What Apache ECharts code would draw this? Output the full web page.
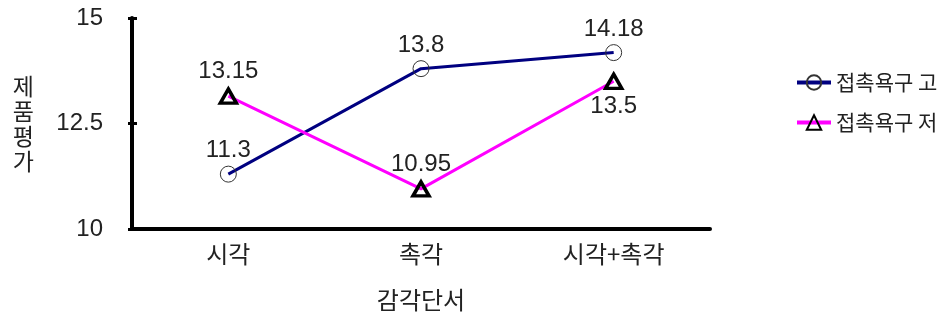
<!DOCTYPE html>
<html><head><meta charset="utf-8">
<script src="https://cdn.jsdelivr.net/npm/echarts@6/dist/echarts.min.js"></script>
<style>html,body{margin:0;padding:0;background:#fff}#c{width:945px;height:323px}</style>
</head><body><div id="c"></div>
<script>
const categories = ['시각', '촉각', '시각+촉각'];
const seriesNames = ['접촉욕구 고', '접촉욕구 저'];
const highValues = [11.3, 13.8, 14.18];
const lowValues = [13.15, 10.95, 13.5];
const yTicks = [10, 12.5, 15];
const xTitle = '감각단서';
const yTitle = '제품평가';

const FF = "'Liberation Sans','Noto Sans CJK KR',sans-serif";
const KF = "'Noto Sans CJK KR',sans-serif";
const chart = echarts.init(document.getElementById('c'), null, {renderer:'canvas'});
chart.setOption({
  animation: false,
  backgroundColor: '#fff',
  textStyle: {fontFamily: FF, color: '#111'},
  grid: {left: 132, right: 235, top: 18, bottom: 94, containLabel: false},
  legend: {
    orient: 'vertical', left: 790, top: 67, itemGap: 19,
    itemWidth: 34, itemHeight: 18,
    lineStyle: {width: 4},
    textStyle: {fontSize: 21, fontFamily: KF, color: '#222'},
    data: seriesNames
  },
  xAxis: {
    type: 'category', data: categories, boundaryGap: true,
    name: xTitle, nameLocation: 'middle', nameGap: 59,
    nameTextStyle: {fontSize: 24, fontFamily: KF, color: '#222'},
    axisLine: {lineStyle: {color: '#000', width: 4}},
    axisTick: {show: false},
    axisLabel: {fontSize: 24, margin: 13, fontFamily: KF, color: '#222'},
    splitLine: {show: false}
  },
  yAxis: [{
    type: 'value', min: yTicks[0], max: yTicks[yTicks.length-1], interval: 2.5,
    name: yTitle.split('').join('\n'), nameLocation: 'middle', nameGap: 98, nameRotate: 0,
    nameTextStyle: {fontSize: 23, lineHeight: 25, fontFamily: KF, color: '#222'},
    axisLine: {show: true, lineStyle: {color: '#000', width: 4}},
    axisTick: {show: true, length: 4, lineStyle: {color: '#000', width: 3}},
    axisLabel: {fontSize: 24, margin: 29, color: '#222', fontFamily: FF, formatter: v => String(v)},
    splitLine: {show: false}
  }, {
    type: 'value', min: yTicks[0], max: yTicks[yTicks.length-1], interval: 2.5, position: 'left',
    axisLine: {show: false},
    axisTick: {show: true, inside: true, length: 5, lineStyle: {color: '#000', width: 3}},
    axisLabel: {show: false}, splitLine: {show: false}
  }],
  series: [{
    name: seriesNames[0], type: 'line', data: highValues,
    symbol: 'circle', symbolSize: 16,
    lineStyle: {color: '#000080', width: 3},
    itemStyle: {color: 'rgba(255,255,255,0)', borderColor: '#333', borderWidth: 1},
    label: {show: true, position: 'top', distance: 3, fontSize: 24, color: '#222', fontFamily: FF},
    z: 3
  }, {
    name: seriesNames[1], type: 'line',
    symbol: 'triangle', symbolSize: [16, 14],
    lineStyle: {color: '#FF00FF', width: 3},
    itemStyle: {color: 'rgba(255,255,255,0)', borderColor: '#000', borderWidth: 3.5},
    label: {show: true, fontSize: 24, color: '#222', fontFamily: FF, distance: 4, position: 'top'},
    data: lowValues.map((v, i) => ({value: v, label: {position: i === 2 ? 'bottom' : 'top'}})),
    z: 4
  }]
});
</script></body></html>
